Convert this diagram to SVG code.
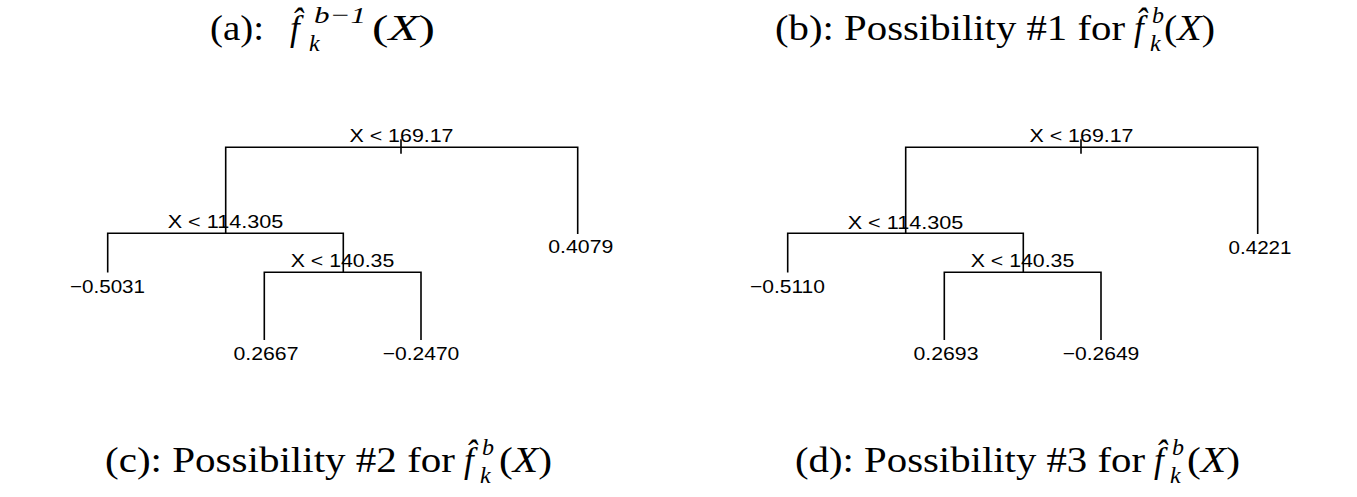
<svg xmlns="http://www.w3.org/2000/svg" width="1357" height="497" viewBox="0 0 1357 497">
<style>
.bg{fill:#ffffff}
.ttl{font-family:"Liberation Serif","DejaVu Serif",serif;font-size:35px;fill:#000}
.it{font-style:italic}
.s{font-size:24px;font-style:italic}
.lbl{font-family:"Liberation Sans",Arial,sans-serif;font-size:19px;fill:#000;text-anchor:middle}
.edge{stroke:#000;stroke-width:1.6;fill:none;stroke-linecap:square}
</style>
<rect class="bg" x="0" y="0" width="1357" height="497"/>

<g id="title-a">
<text class="ttl" y="40"><tspan x="210" textLength="54" lengthAdjust="spacingAndGlyphs">(a):</tspan><tspan x="290" class="it">f&#x302;</tspan><tspan x="314" y="23" class="s" textLength="52" lengthAdjust="spacingAndGlyphs">b−1</tspan><tspan x="309" y="51" class="s">k</tspan><tspan x="372" y="40" textLength="63" lengthAdjust="spacingAndGlyphs">(<tspan class="it">X</tspan>)</tspan></text>
</g>

<g id="title-b">
<text class="ttl" y="40"><tspan x="775" textLength="350" lengthAdjust="spacingAndGlyphs">(b): Possibility #1 for</tspan><tspan x="1134" class="it">f&#x302;</tspan><tspan x="1152" y="23" class="s">b</tspan><tspan x="1150" y="51" class="s">k</tspan><tspan x="1164" y="40" textLength="51" lengthAdjust="spacingAndGlyphs">(<tspan class="it">X</tspan>)</tspan></text>
</g>

<g id="title-c">
<text class="ttl" y="472"><tspan x="105" textLength="350" lengthAdjust="spacingAndGlyphs">(c): Possibility #2 for</tspan><tspan x="464" class="it">f&#x302;</tspan><tspan x="482" y="455" class="s">b</tspan><tspan x="480" y="483" class="s">k</tspan><tspan x="499" y="472" textLength="53" lengthAdjust="spacingAndGlyphs">(<tspan class="it">X</tspan>)</tspan></text>
</g>

<g id="title-d">
<text class="ttl" y="472"><tspan x="795" textLength="350" lengthAdjust="spacingAndGlyphs">(d): Possibility #3 for</tspan><tspan x="1154" class="it">f&#x302;</tspan><tspan x="1172" y="455" class="s">b</tspan><tspan x="1170" y="483" class="s">k</tspan><tspan x="1187" y="472" textLength="53" lengthAdjust="spacingAndGlyphs">(<tspan class="it">X</tspan>)</tspan></text>
</g>

<g id="connectors">
<path class="edge" d="M225.7,233.3 V147.3 H577.7 V233.3 M401,140 V153 M107.7,271.7 V233.3 H343.3 V272.3 M264.3,339.3 V272.3 H421 V339.3"/>
<path class="edge" d="M905.7,233.3 V147.3 H1257.7 V233.3 M1081,140 V153 M787.7,271.7 V233.3 H1023.3 V272.3 M944.3,339.3 V272.3 H1101 V339.3"/>
</g>

<g id="tree-a-nodes">
<g id="a-root"><text class="lbl" x="401.5" y="141.5" textLength="104" lengthAdjust="spacingAndGlyphs">X &lt; 169.17</text></g>
<g id="a-split2"><text class="lbl" x="225.5" y="228.3" textLength="115.6" lengthAdjust="spacingAndGlyphs">X &lt; 114.305</text></g>
<g id="a-split3"><text class="lbl" x="342.5" y="266.7" textLength="103.6" lengthAdjust="spacingAndGlyphs">X &lt; 140.35</text></g>
<g id="a-leaf1"><text class="lbl" x="107.5" y="293" textLength="75" lengthAdjust="spacingAndGlyphs">−0.5031</text></g>
<g id="a-leaf2"><text class="lbl" x="580.8" y="253.3" textLength="65" lengthAdjust="spacingAndGlyphs">0.4079</text></g>
<g id="a-leaf3"><text class="lbl" x="266" y="360" textLength="65" lengthAdjust="spacingAndGlyphs">0.2667</text></g>
<g id="a-leaf4"><text class="lbl" x="421" y="360" textLength="76.7" lengthAdjust="spacingAndGlyphs">−0.2470</text></g>
</g>

<g id="tree-b-nodes">
<g id="b-root"><text class="lbl" x="1081.5" y="141.5" textLength="104" lengthAdjust="spacingAndGlyphs">X &lt; 169.17</text></g>
<g id="b-split2"><text class="lbl" x="905.5" y="228.8" textLength="115.6" lengthAdjust="spacingAndGlyphs">X &lt; 114.305</text></g>
<g id="b-split3"><text class="lbl" x="1022.5" y="266.7" textLength="103.6" lengthAdjust="spacingAndGlyphs">X &lt; 140.35</text></g>
<g id="b-leaf1"><text class="lbl" x="787.5" y="292.5" textLength="75" lengthAdjust="spacingAndGlyphs">−0.5110</text></g>
<g id="b-leaf2"><text class="lbl" x="1260" y="254" textLength="63" lengthAdjust="spacingAndGlyphs">0.4221</text></g>
<g id="b-leaf3"><text class="lbl" x="946" y="360" textLength="65" lengthAdjust="spacingAndGlyphs">0.2693</text></g>
<g id="b-leaf4"><text class="lbl" x="1101" y="360" textLength="76.7" lengthAdjust="spacingAndGlyphs">−0.2649</text></g>
</g>
</svg>
